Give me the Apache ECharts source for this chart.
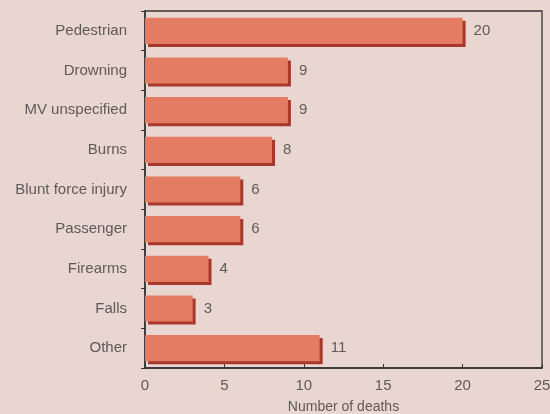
<!DOCTYPE html>
<html><head><meta charset="utf-8">
<script src="https://cdn.jsdelivr.net/npm/echarts@6/dist/echarts.min.js"></script>
<style>html,body{margin:0;padding:0;background:#e9d6d0;}#c{width:550px;height:414px;}</style>
</head><body><div id="c"></div>
<script>
const categories = ['Pedestrian','Drowning','MV unspecified','Burns','Blunt force injury','Passenger','Firearms','Falls','Other'];
const deaths = [20, 9, 9, 8, 6, 6, 4, 3, 11];
const xTicks = [0, 5, 10, 15, 20, 25];

const font = '"Liberation Sans", Arial, sans-serif';
const txt = '#5e5a5a';
const chart = echarts.init(document.getElementById('c'));
chart.setOption({
  backgroundColor: '#e9d6d0',
  animation: false,
  grid: {left: 145, right: 8, top: 11, bottom: 46, containLabel: false, outerBoundsMode: 'none', show: true, borderColor: '#333', borderWidth: 1.3, backgroundColor: 'transparent'},
  xAxis: {
    type: 'value', min: xTicks[0], max: xTicks[xTicks.length-1], interval: 5,
    name: 'Number of deaths', nameLocation: 'middle', nameGap: 32,
    nameTextStyle: {color: txt, fontSize: 14, fontFamily: font},
    axisLine: {show: true, lineStyle: {color: '#333', width: 1.6}},
    axisTick: {show: true, inside: true, length: 4, lineStyle: {color: '#333'}},
    axisLabel: {color: txt, fontSize: 15, fontFamily: font, margin: 10},
    splitLine: {show: false}
  },
  yAxis: {
    type: 'category', data: categories, inverse: true,
    axisLine: {show: true, lineStyle: {color: '#333', width: 1.6}},
    axisTick: {show: true, length: 4, lineStyle: {color: '#333'}},
    axisLabel: {color: txt, fontSize: 15, fontFamily: font, margin: 18}
  },
  series: [{
    type: 'bar', data: deaths, barWidth: '66%',
    itemStyle: {color: '#e37c62', shadowColor: '#a8382c', shadowOffsetX: 3, shadowOffsetY: 3, shadowBlur: 0},
    label: {show: true, position: 'right', distance: 11, color: txt, fontSize: 15, fontFamily: font}
  }]
});
</script></body></html>
